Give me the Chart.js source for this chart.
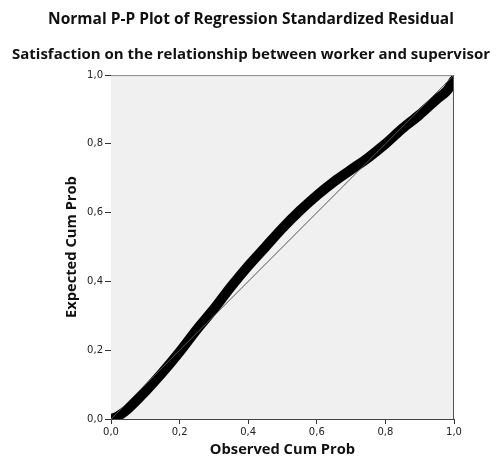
<!DOCTYPE html>
<html>
<head>
<meta charset="utf-8">
<script src="https://cdn.jsdelivr.net/npm/chart.js@4/dist/chart.umd.min.js"></script>
<style>
  html, body { margin: 0; padding: 0; background: #fff; }
  #wrap { width: 502px; height: 459px; }
</style>
</head>
<body>
<div id="wrap"><canvas id="pp-chart" width="502" height="459"></canvas></div>
<script>
// values
const chartTitle = 'Normal P-P Plot of Regression Standardized Residual';
const chartSubtitle = 'Satisfaction on the relationship between worker and supervisor';
const xTitle = 'Observed Cum Prob';
const yTitle = 'Expected Cum Prob';

const observedCum = [0, 0.02, 0.05, 0.10, 0.15, 0.20, 0.25, 0.30, 0.35, 0.40, 0.45, 0.50,
                     0.55, 0.60, 0.65, 0.70, 0.75, 0.80, 0.85, 0.90, 0.95, 0.98, 1.0];
const expectedCum = [0, 0.008, 0.03, 0.08, 0.135, 0.195, 0.26, 0.32, 0.385, 0.445, 0.50, 0.555,
                     0.605, 0.65, 0.69, 0.725, 0.76, 0.80, 0.845, 0.885, 0.93, 0.955, 0.985];
const refLine = [0, 1];
const tickValues = [0, 0.2, 0.4, 0.6, 0.8, 1.0];

function fmtTick(v) {
    return v.toFixed(1).replace('.', ',');
}

// gray plot area + frame
const plotBg = {
    id: 'plotBg',
    beforeDatasetsDraw(chart) {
        const {ctx, chartArea: a} = chart;
        ctx.save();
        ctx.fillStyle = '#f0f0f0';
        ctx.fillRect(a.left, a.top, a.right - a.left, a.bottom - a.top);
        ctx.restore();
    },
    afterDraw(chart) {
        const {ctx, chartArea: a} = chart;
        ctx.save();
        ctx.lineWidth = 1;
        ctx.strokeStyle = '#888';
        ctx.beginPath();
        ctx.moveTo(a.left, a.top + 0.5);
        ctx.lineTo(a.right, a.top + 0.5);
        ctx.stroke();
        ctx.strokeStyle = '#555';
        ctx.beginPath();
        ctx.moveTo(a.right - 0.5, a.top);
        ctx.lineTo(a.right - 0.5, a.bottom);
        ctx.stroke();
        ctx.restore();
    }
};

const points = observedCum.map((x, i) => ({x: x, y: expectedCum[i]}));
const diag = refLine.map(v => ({x: v, y: v}));

const ctx = document.getElementById('pp-chart').getContext('2d');
const myChart = new Chart(ctx, {
    type: 'scatter',
    data: {
        datasets: [{
            label: 'Reference',
            data: diag,
            showLine: true,
            borderColor: '#555',
            borderWidth: 1,
            pointRadius: 0,
            clip: 0,
            order: 0
        }, {
            label: 'Residual',
            data: points,
            showLine: true,
            borderColor: '#000',
            borderWidth: 10,
            borderCapStyle: 'round',
            borderJoinStyle: 'round',
            cubicInterpolationMode: 'monotone',
            pointRadius: 0,
            clip: 0,
            order: 1
        }]
    },
    options: {
        responsive: false,
        animation: false,
        events: [],
        layout: { padding: 0 },
        plugins: {
            legend: { display: false },
            tooltip: { enabled: false },
            title: {
                display: true,
                text: chartTitle,
                color: '#111',
                font: { family: 'Open Sans', size: 15.5, weight: 'bold' },
                padding: { top: 10.5, bottom: 16.5 }
            },
            subtitle: {
                display: true,
                text: chartSubtitle,
                color: '#111',
                font: { family: 'Open Sans', size: 15, weight: 'bold' },
                padding: { top: 0, bottom: 11.5 }
            }
        },
        scales: {
            x: {
                type: 'linear',
                min: 0,
                max: 1,
                afterBuildTicks: s => { s.ticks = tickValues.map(v => ({value: v})); },
                afterFit: s => { s.height = 40; },
                ticks: {
                    callback: v => fmtTick(v),
                    color: '#222',
                    font: { family: 'DejaVu Sans', size: 10 },
                    padding: 2,
                    maxRotation: 0
                },
                grid: { drawOnChartArea: false, drawTicks: true, tickLength: 5, color: '#333' },
                border: { display: true, color: '#444', width: 1 },
                title: {
                    display: true,
                    text: xTitle,
                    color: '#111',
                    font: { family: 'Open Sans', size: 14.7, weight: 'bold' },
                    padding: { top: 0, bottom: 0 }
                }
            },
            y: {
                type: 'linear',
                min: 0,
                max: 1,
                afterBuildTicks: s => { s.ticks = tickValues.map(v => ({value: v})); },
                afterFit: s => { s.width = 111; },
                ticks: {
                    callback: v => fmtTick(v),
                    color: '#222',
                    font: { family: 'DejaVu Sans', size: 10 },
                    padding: 2
                },
                grid: { drawOnChartArea: false, drawTicks: true, tickLength: 6, color: '#333' },
                border: { display: true, color: '#444', width: 1 },
                title: {
                    display: true,
                    text: yTitle,
                    color: '#111',
                    font: { family: 'Open Sans', size: 14.7, weight: 'bold' },
                    padding: { top: 63, bottom: 0 }
                }
            },
            // empty right-hand margin so the titles stay centred on the page
            yRight: {
                type: 'linear',
                position: 'right',
                min: 0,
                max: 1,
                afterFit: s => { s.width = 48; },
                ticks: { display: false },
                grid: { display: false },
                border: { display: false }
            }
        }
    },
    plugins: [plotBg]
});
</script>
</body>
</html>
